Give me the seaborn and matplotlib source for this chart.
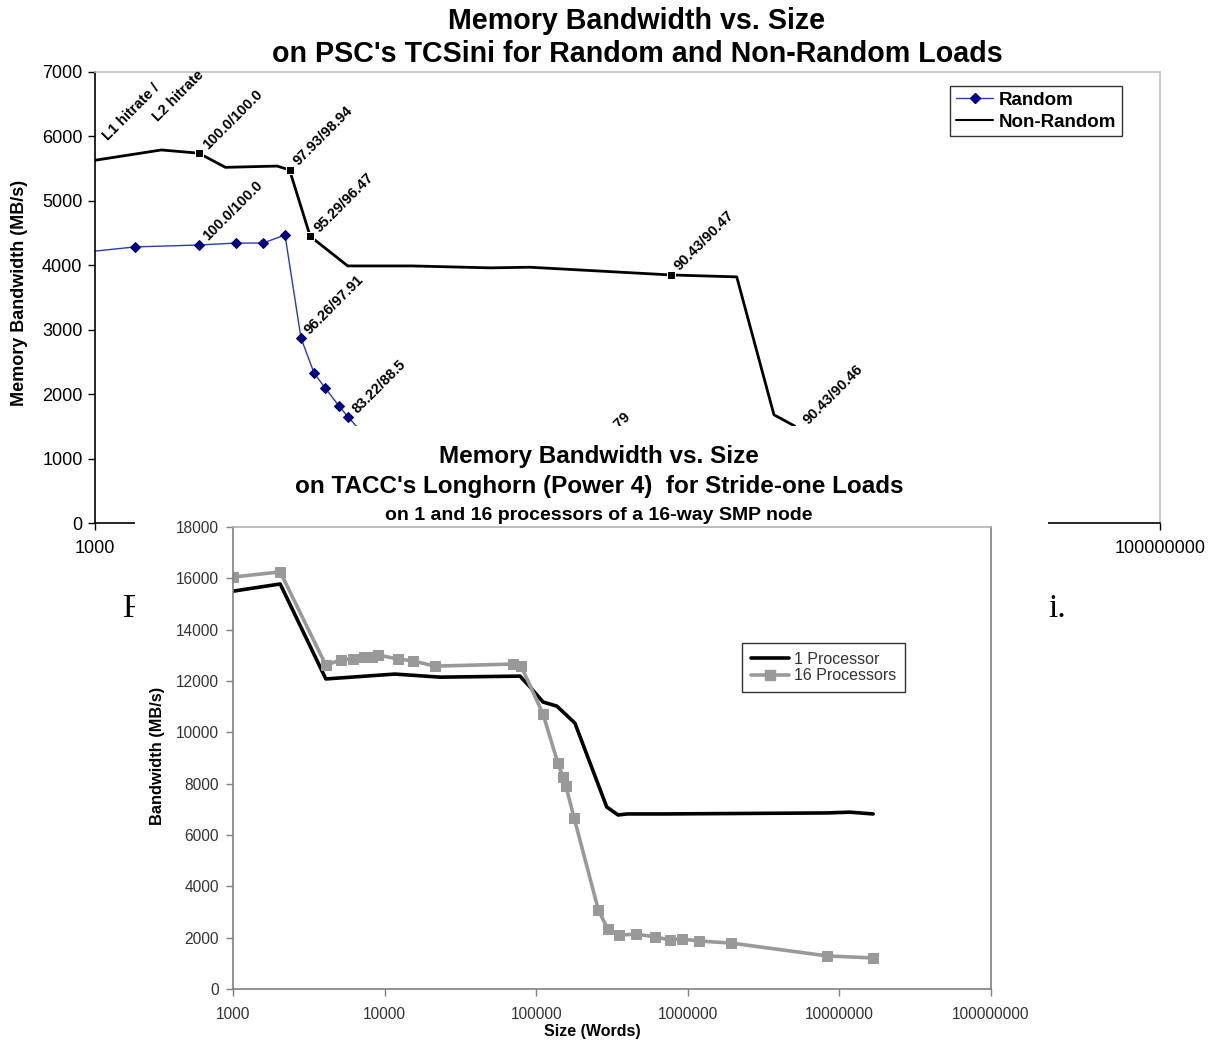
import matplotlib
matplotlib.use("Agg")
import matplotlib.pyplot as plt
from matplotlib.patches import Rectangle
from matplotlib.lines import Line2D
from matplotlib.ticker import FixedLocator, FuncFormatter, NullLocator
import seaborn as sns
import pandas as pd

# ---------------- data: top chart (PSC TCSini) ----------------
nonrandom_size = [1000, 2048, 3072, 4096, 7168, 8192, 10240, 15360, 30720, 71680,
                  110000, 505000, 1030000, 1540000, 2040000, 10000000]
nonrandom_bw = [5630, 5790, 5740, 5520, 5540, 5480, 4450, 3990, 3990, 3960,
                3970, 3850, 3820, 1680, 1460, 1480]
nonrandom_marked = [2, 5, 6, 11, 14]
nonrandom_labels = ["100.0/100.0", "97.93/98.94", "95.29/96.47", "90.43/90.47", "90.43/90.46"]

random_size = [1000, 1540, 3072, 4590, 6150, 7800, 9270, 10670, 12030, 13990, 15420, 18000]
random_bw = [4220, 4285, 4315, 4345, 4345, 4470, 2870, 2330, 2095, 1815, 1645, 1400]
random_marked = [1, 2, 3, 4, 5, 6, 7, 8, 9, 10]
random_label_idx = [2, 6, 10]
random_labels = ["100.0/100.0", "96.26/97.91", "83.22/88.5"]

# ---------------- data: bottom chart (TACC Longhorn) ----------------
p1_size = [1000, 2048, 4096, 11700, 23200, 78100, 91000, 111000, 137000, 180000,
           292000, 347000, 398000, 676000, 8400000, 11700000, 16700000]
p1_bw = [15500, 15780, 12080, 12270, 12150, 12190, 11770, 11180, 11020, 10360,
         7090, 6780, 6820, 6820, 6860, 6890, 6820]

p16_size = [1000, 2048, 4096, 5150, 6170, 7310, 8260, 9040, 12240, 15380, 21600,
            70300, 79500, 111000, 139000, 150000, 157000, 178000, 257000, 296000,
            351000, 457000, 608000, 764000, 916000, 1186000, 1930000, 8280000, 16600000]
p16_bw = [16050, 16250, 12620, 12820, 12860, 12930, 12930, 13010, 12860, 12780, 12580,
          12660, 12580, 10710, 8800, 8260, 7910, 6660, 3080, 2340,
          2100, 2140, 2030, 1910, 1950, 1870, 1790, 1290, 1210]

decade_ticks = [1000, 10000, 100000, 1000000, 10000000, 100000000]

# ---------------- style ----------------
sns.set_style("white")
plt.rcParams["font.family"] = ["Liberation Sans", "DejaVu Sans"]
plt.rcParams["text.color"] = "black"
plt.rcParams["axes.labelcolor"] = "black"
plt.rcParams["xtick.color"] = "black"
plt.rcParams["ytick.color"] = "black"

W, H = 1215, 1040
fig = plt.figure(figsize=(W / 100, H / 100), dpi=100)
fig.patch.set_facecolor("white")


def fx(px):
    return px / W


def fy(py):
    return 1 - py / H


# ================= TOP CHART =================
ax1 = fig.add_axes([fx(95), fy(523), fx(1160) - fx(95), fy(72) - fy(523)])
ax1.set_zorder(0)

df_nr = pd.DataFrame({"size": nonrandom_size, "bw": nonrandom_bw})
df_r = pd.DataFrame({"size": random_size, "bw": random_bw})

sns.lineplot(data=df_nr, x="size", y="bw", ax=ax1, color="black", lw=2,
             marker="s", markersize=6, markevery=nonrandom_marked,
             sort=False, estimator=None)
sns.lineplot(data=df_r, x="size", y="bw", ax=ax1, color="#2a3cb0", lw=1,
             marker="D", markersize=5, markerfacecolor="#000080", markeredgecolor="#000080",
             markevery=random_marked, sort=False, estimator=None)

ax1.set_xscale("log")
ax1.set_xlim(1000, 100000000)
ax1.set_ylim(0, 7000)
ax1.xaxis.set_major_locator(FixedLocator(decade_ticks))
ax1.xaxis.set_minor_locator(NullLocator())
ax1.xaxis.set_major_formatter(FuncFormatter(lambda v, p: f"{int(round(v))}"))
ax1.set_yticks(range(0, 7001, 1000))
ax1.tick_params(axis="both", which="major", direction="out", length=5, width=1,
                colors="black", labelcolor="black", labelsize=13, pad=4,
                bottom=True, left=True, top=False, right=False)
ax1.tick_params(axis="x", pad=7)
ax1.set_xlabel("")
ax1.set_ylabel("Memory Bandwidth (MB/s)", fontsize=13, fontweight="bold", color="black")
ax1.yaxis.set_label_coords(-0.0626, 0.51)
for s in ["left", "bottom"]:
    ax1.spines[s].set_color("black")
    ax1.spines[s].set_linewidth(1.2)
for s in ["top", "right"]:
    ax1.spines[s].set_color("#c0c0c0")
    ax1.spines[s].set_linewidth(1.2)

ann_kw = dict(textcoords="offset points", rotation=45, rotation_mode="anchor",
              ha="left", va="bottom", fontsize=10.5, fontweight="bold", color="black")
for idx, lab in zip(nonrandom_marked, nonrandom_labels):
    ax1.annotate(lab, (nonrandom_size[idx], nonrandom_bw[idx]), xytext=(8, 1), **ann_kw)
for idx, lab in zip(random_label_idx, random_labels):
    ax1.annotate(lab, (random_size[idx], random_bw[idx]), xytext=(8, 1), **ann_kw)
# partially hidden label of a further Random point
ax1.annotate("84.96/87.79", (165000, 740), xytext=(8, 1), **ann_kw)
ax1.annotate("L1 hitrate /", (1177, 5900), xytext=(0, 0), **ann_kw)
ax1.annotate("L2 hitrate", (2018, 6190), xytext=(0, 0), **ann_kw)

h_r = Line2D([], [], color="#2a3cb0", lw=1, marker="D", markersize=5,
             markerfacecolor="#000080", markeredgecolor="#000080")
h_nr = Line2D([], [], color="black", lw=1.5)
leg1 = ax1.legend([h_r, h_nr], ["Random", "Non-Random"], loc="upper left",
                  bbox_to_anchor=(0.803, 0.969), borderaxespad=0, frameon=True,
                  fancybox=False, shadow=False, prop={"size": 13.5, "weight": "bold"},
                  handlelength=2.0, handletextpad=0.3, borderpad=0.3, labelspacing=0.25)
leg1.get_frame().set_edgecolor("black")
leg1.get_frame().set_linewidth(1.0)
for t in leg1.get_texts():
    t.set_color("black")

fig.text(fx(637), fy(21), "Memory Bandwidth vs. Size", ha="center", va="center",
         fontsize=20.6, fontweight="bold", color="black")
fig.text(fx(637), fy(54), "on PSC's TCSini for Random and Non-Random Loads", ha="center",
         va="center", fontsize=20.6, fontweight="bold", color="black")

# document text behind the overlay
fig.text(fx(122), fy(617), "F", ha="left", va="baseline", fontsize=24, color="black",
         family=["Liberation Serif", "DejaVu Serif"], zorder=0.5)
fig.text(fx(1048), fy(617), "i.", ha="left", va="baseline", fontsize=24, color="black",
         family=["Liberation Serif", "DejaVu Serif"], zorder=0.5)

# white overlay of the second chart
fig.add_artist(Rectangle((fx(135), 0), fx(1048) - fx(135), fy(426), transform=fig.transFigure,
                         facecolor="white", edgecolor="none", zorder=1))

# ================= BOTTOM CHART =================
ax2 = fig.add_axes([fx(233), fy(989), fx(991) - fx(233), fy(527) - fy(989)])
ax2.set_zorder(2)
ax2.set_facecolor("white")

df_p1 = pd.DataFrame({"size": p1_size, "bw": p1_bw})
df_p16 = pd.DataFrame({"size": p16_size, "bw": p16_bw})
sns.lineplot(data=df_p1, x="size", y="bw", ax=ax2, color="black", lw=2.6,
             sort=False, estimator=None)
sns.lineplot(data=df_p16, x="size", y="bw", ax=ax2, color="#999999", lw=2.6,
             marker="s", markersize=6.5, markerfacecolor="#999999", markeredgecolor="#999999",
             sort=False, estimator=None)

ax2.set_xscale("log")
ax2.set_xlim(1000, 100000000)
ax2.set_ylim(0, 18000)
ax2.xaxis.set_major_locator(FixedLocator(decade_ticks))
ax2.xaxis.set_minor_locator(NullLocator())
ax2.xaxis.set_major_formatter(FuncFormatter(lambda v, p: f"{int(round(v))}"))
ax2.set_yticks(range(0, 18001, 2000))
ax2.tick_params(axis="both", which="major", direction="out", length=5, width=1,
                colors="#808080", labelcolor="#333333", labelsize=11.2, pad=5,
                bottom=True, left=True, top=False, right=False)
ax2.tick_params(axis="x", pad=8)
for s in ["left", "bottom", "right"]:
    ax2.spines[s].set_color("#808080")
    ax2.spines[s].set_linewidth(1.2)
ax2.spines["top"].set_color("#b0b0b0")
ax2.spines["top"].set_linewidth(1.2)
ax2.set_xlabel("Size (Words)", fontsize=11.5, fontweight="bold", color="black")
ax2.xaxis.set_label_coords(0.4736, -0.0758)
ax2.set_ylabel("Bandwidth (MB/s)", fontsize=11.8, fontweight="bold", color="black")
ax2.yaxis.set_label_coords(-0.0897, 0.504)

h_1 = Line2D([], [], color="black", lw=2.6)
h_16 = Line2D([], [], color="#999999", lw=2.6, marker="s", markersize=6.5,
              markerfacecolor="#999999", markeredgecolor="#999999")
leg2 = ax2.legend([h_1, h_16], ["1 Processor", "16 Processors"], loc="upper left",
                  bbox_to_anchor=(0.6715, 0.749), borderaxespad=0, frameon=True,
                  fancybox=False, shadow=False, prop={"size": 11.5},
                  handlelength=2.4, handletextpad=0.3, borderpad=0.55, labelspacing=0.1)
leg2.get_frame().set_edgecolor("black")
leg2.get_frame().set_linewidth(1.0)
for t in leg2.get_texts():
    t.set_color("#333333")

fig.text(fx(599), fy(456), "Memory Bandwidth vs. Size", ha="center", va="center",
         fontsize=17.5, fontweight="bold", color="black", zorder=3)
fig.text(fx(599), fy(487), "on TACC's Longhorn (Power 4)  for Stride-one Loads", ha="center",
         va="center", fontsize=17.5, fontweight="bold", color="black", zorder=3)
fig.text(fx(599), fy(515), "on 1 and 16 processors of a 16-way SMP node", ha="center",
         va="center", fontsize=14, fontweight="bold", color="black", zorder=3)

fig.savefig("out.png", dpi=100, facecolor="white")
